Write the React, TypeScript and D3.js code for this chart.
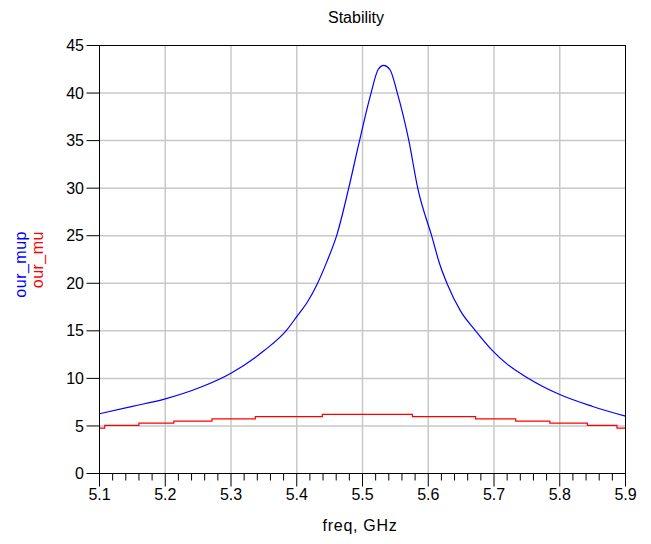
import React from 'react';
import * as d3 from 'd3';

// our_mup (blue)
const mupFreq = [5.1, 5.15, 5.2, 5.2536, 5.3, 5.35, 5.385, 5.4, 5.416, 5.431, 5.446, 5.4615, 5.479, 5.4955, 5.513, 5.524, 5.532, 5.5415, 5.553, 5.5705, 5.584, 5.606, 5.617, 5.629, 5.649, 5.672, 5.698, 5.72, 5.75, 5.8, 5.85, 5.9];
const mupVal = [6.28, 7.05, 7.85, 9.07, 10.55, 12.9, 15.1, 16.5, 18.0, 19.9, 22.3, 25.2, 30, 35, 40, 42.5, 42.9, 42.5, 40, 35, 30, 24.8, 22.1, 19.9, 17.1, 15.0, 12.9, 11.5, 10.1, 8.3, 7.05, 6.03];

// our_mu (red) stepped
const muFreq = [5.1, 5.108, 5.16, 5.213, 5.271, 5.337, 5.439, 5.576, 5.672, 5.733, 5.785, 5.842, 5.887, 5.9];
const muVal = [4.78, 5.06, 5.29, 5.5, 5.74, 5.98, 6.22, 5.98, 5.74, 5.5, 5.29, 5.06, 4.78, 4.78];

const xTicks = [5.1, 5.2, 5.3, 5.4, 5.5, 5.6, 5.7, 5.8, 5.9];
const yTicks = [0, 5, 10, 15, 20, 25, 30, 35, 40, 45];

const width = 651;
const height = 544;
const left = 99.5;
const right = 625.5;
const top = 45.5;
const bottom = 473.5;
const font = '"Liberation Sans", Arial, sans-serif';

export default function App() {
  const x = d3.scaleLinear().domain([5.1, 5.9]).range([left, right]);
  const y = d3.scaleLinear().domain([0, 45]).range([bottom, top]);

  const mupLine = d3.line<number>()
    .x((d, i) => x(mupFreq[i]))
    .y(d => y(d))
    .curve(d3.curveMonotoneX);

  const muLine = d3.line<number>()
    .x((d, i) => x(muFreq[i]))
    .y(d => y(d))
    .curve(d3.curveStepAfter);

  const minor = d3.range(0, 41).map(i => 5.1 + i * 0.02).filter((_, i) => i % 5 !== 0);

  return (
    <svg width={width} height={height} style={{ position: 'absolute', left: 0, top: 0, background: '#fff' }}>
      <text x={356} y={23} textAnchor="middle" fontFamily={font} fontSize={16}>Stability</text>

      {/* grid */}
      {xTicks.slice(1, -1).map(t => (
        <line key={'gx' + t} x1={x(t)} x2={x(t)} y1={top} y2={bottom} stroke="#c8c8c8" strokeWidth={1.5} />
      ))}
      {yTicks.slice(1, -1).map(t => (
        <line key={'gy' + t} x1={left} x2={right} y1={y(t)} y2={y(t)} stroke="#c8c8c8" strokeWidth={1.5} />
      ))}

      {/* series */}
      <path d={muLine(muVal) || ''} fill="none" stroke="#ff0000" strokeWidth={1.2} />
      <path d={mupLine(mupVal) || ''} fill="none" stroke="#0000ff" strokeWidth={1.2} />

      {/* frame */}
      <rect x={left} y={top} width={right - left} height={bottom - top} fill="none" stroke="#000" strokeWidth={1} />

      {/* y ticks */}
      {yTicks.map(t => (
        <g key={'yt' + t}>
          <line x1={left - 13} x2={left} y1={y(t)} y2={y(t)} stroke="#000" />
          <text x={84} y={y(t)} dy="0.35em" textAnchor="end" fontFamily={font} fontSize={16}>{t}</text>
        </g>
      ))}

      {/* x ticks */}
      {minor.map(t => (
        <line key={'mx' + t} x1={x(t)} x2={x(t)} y1={bottom} y2={bottom + 7} stroke="#000" />
      ))}
      {xTicks.map(t => (
        <g key={'xt' + t}>
          <line x1={x(t)} x2={x(t)} y1={bottom} y2={bottom + 13} stroke="#000" />
          <text x={x(t)} y={500} textAnchor="middle" fontFamily={font} fontSize={16}>{t.toFixed(1)}</text>
        </g>
      ))}

      <text x={360} y={531} textAnchor="middle" fontFamily={font} fontSize={16} letterSpacing={0.7}>freq, GHz</text>

      <text transform="translate(26,231) rotate(-90)" textAnchor="end" fontFamily={font} fontSize={16} letterSpacing={0.5} fill="#0000ff">our_mup</text>
      <text transform="translate(43,231) rotate(-90)" textAnchor="end" fontFamily={font} fontSize={16} letterSpacing={0.5} fill="#ff0000">our_mu</text>
    </svg>
  );
}
